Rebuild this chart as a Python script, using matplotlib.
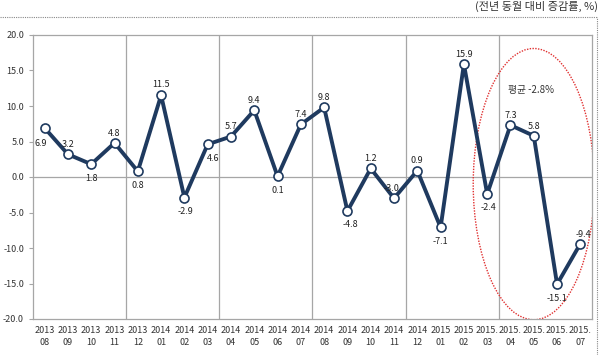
import matplotlib.pyplot as plt
from matplotlib.patches import Ellipse

plt.rcParams['font.family'] = ['Noto Sans CJK KR', 'DejaVu Sans']

# data
months = ['2013\n08', '2013\n09', '2013\n10', '2013\n11', '2013\n12',
          '2014\n01', '2014\n02', '2014\n03', '2014\n04', '2014\n05',
          '2014\n06', '2014\n07', '2014\n08', '2014\n09', '2014\n10',
          '2014\n11', '2014\n12', '2015\n01', '2015\n02', '2015.\n03',
          '2015.\n04', '2015.\n05', '2015.\n06', '2015.\n07']
growth = [6.9, 3.2, 1.8, 4.8, 0.8, 11.5, -2.9, 4.6, 5.7, 9.4, 0.1, 7.4,
          9.8, -4.8, 1.2, -3.0, 0.9, -7.1, 15.9, -2.4, 7.3, 5.8, -15.1, -9.4]
# label placement: (dx, dy) in points
label_offsets = [(-3, -11), (0, 7), (0, -10), (0, 7), (0, -10), (0, 8),
                 (1, -10), (4, -10), (0, 7), (0, 7), (0, -10), (0, 7),
                 (0, 7), (2, -10), (0, 7), (-2, 7), (0, 7), (0, -10),
                 (0, 7), (1, -10), (0, 7), (0, 7), (0, -10), (2, 7)]

W, H = 601, 355
fig = plt.figure(figsize=(W / 100, H / 100), dpi=100)
ax = fig.add_axes([33 / W, 36 / H, 559 / W, 284 / H])

navy = '#1f3a5f'
grid_c = '#a6a6a6'
x = list(range(len(months)))

for gx in [3.5, 7.5, 11.5, 15.5, 19.5]:
    ax.axvline(gx, color=grid_c, lw=0.9, zorder=1)
ax.axhline(0, color=grid_c, lw=0.9, zorder=1)

ax.plot(x, growth, color=navy, lw=2.8, marker='o', markersize=6.5,
        markerfacecolor='white', markeredgecolor=navy, markeredgewidth=1.2,
        zorder=3)

for xi, v, (dx, dy) in zip(x, growth, label_offsets):
    ax.annotate(f'{v:.1f}', (xi, v), xytext=(dx, dy), textcoords='offset points',
                ha='center', va='center', fontsize=6.5, color='#222222', zorder=4)

ax.add_patch(Ellipse((21.0, -1.0), 5.2, 38.2, fill=False, ec='#e03030',
                     ls=(0, (1, 1)), lw=1.0, zorder=2))
ax.text(20.9, 12.2, '평균 -2.8%', ha='center', va='center', fontsize=7,
        color='#333333')

ax.set_xlim(-0.5, len(months) - 0.5)
ax.set_ylim(-20, 20)
yt = [20, 15, 10, 5, 0, -5, -10, -15, -20]
ax.set_yticks(yt)
ax.set_yticklabels([f'{t:.1f}' for t in yt])
ax.set_xticks(x)
ax.set_xticklabels(months, linespacing=1.5)
ax.tick_params(axis='both', labelsize=6.5, colors='#333333', length=3,
               color=grid_c)
ax.tick_params(axis='x', length=0, pad=5)
for s in ax.spines.values():
    s.set_color(grid_c)
    s.set_linewidth(0.9)

# header and dotted frame
fig.text(598 / W, 1 - 6 / H, '(전년 동월 대비 증감률, %)', ha='right', va='center',
         fontsize=8, color='#333333')
fig.add_artist(plt.Line2D([0, 597 / W], [1 - 17 / H, 1 - 17 / H],
                          color='#888888', ls=(0, (1, 1)), lw=0.8))
fig.add_artist(plt.Line2D([597 / W, 597 / W], [0, 1 - 17 / H],
                          color='#888888', ls=(0, (1, 1)), lw=0.8))

fig.savefig('out.png', dpi=100)
